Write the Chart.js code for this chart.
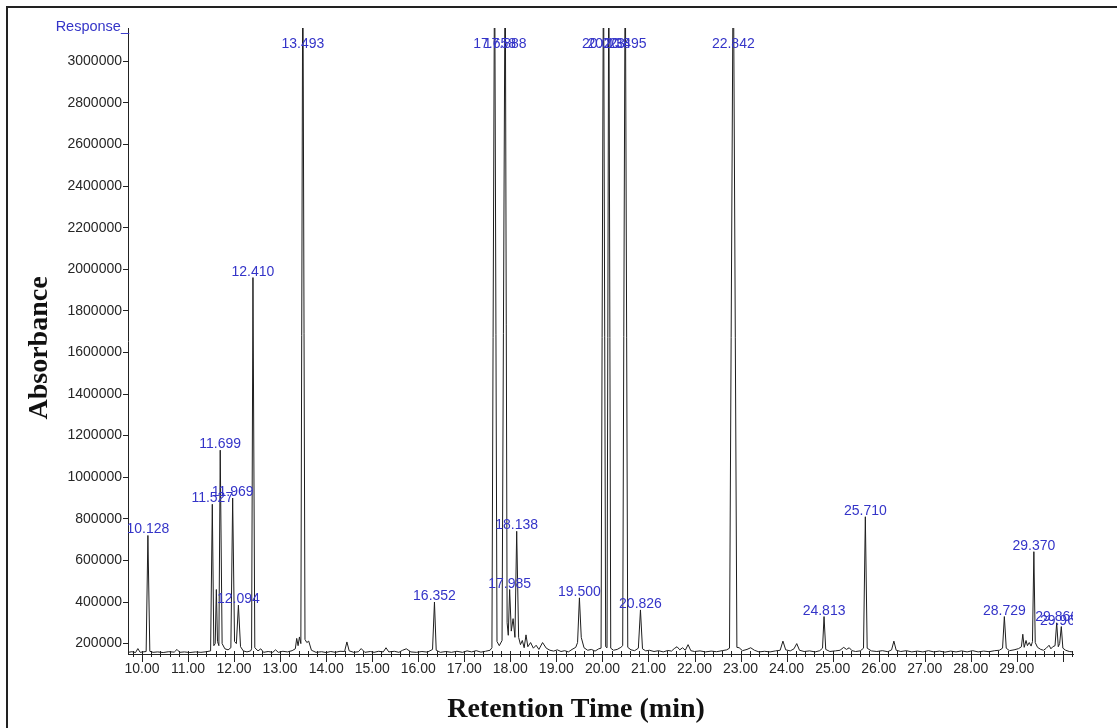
<!DOCTYPE html>
<html>
<head>
<meta charset="utf-8">
<script src="https://cdn.jsdelivr.net/npm/chart.js@4.4.1/dist/chart.umd.min.js"></script>
<style>
    html, body { margin: 0; padding: 0; background: #fff; overflow: hidden; }
    .frame { position: absolute; left: 6px; top: 6px; width: 1200px; height: 800px; border: 2px solid #222; }
    #chromatogram { position: absolute; left: 0; top: 0; }
</style>
</head>
<body>
<div class="frame"></div>
<canvas id="chromatogram" width="1117" height="728"></canvas>
<script>
// trace (min, response)
const retention = [
    9.70, 9.78, 9.86, 9.91, 9.96, 10.02, 10.09, 10.128, 10.17, 10.24, 10.34, 10.46, 10.58, 10.70, 10.76, 10.82, 10.92,
    11.04, 11.16, 11.28, 11.40, 11.49, 11.527, 11.56, 11.59, 11.615, 11.64, 11.67, 11.699, 11.74, 11.80, 11.87, 11.93, 11.969,
    12.01, 12.05, 12.094, 12.14, 12.20, 12.28, 12.36, 12.38, 12.410, 12.45, 12.52, 12.58, 12.64, 12.74, 12.84, 12.90, 12.96,
    13.06, 13.16, 13.26, 13.33, 13.36, 13.39, 13.42, 13.45, 13.493, 13.54, 13.58, 13.62, 13.68, 13.78, 13.90,
    14.00, 14.10, 14.20, 14.30, 14.40, 14.45, 14.50, 14.60, 14.70, 14.76, 14.84, 14.96,
    15.04, 15.14, 15.24, 15.30, 15.36, 15.48, 15.58, 15.66, 15.74, 15.84, 15.96,
    16.08, 16.20, 16.31, 16.352, 16.39, 16.48, 16.60, 16.72, 16.84, 16.96,
    17.06, 17.16, 17.26, 17.36, 17.46, 17.56, 17.60, 17.658, 17.71, 17.76, 17.82, 17.888, 17.93, 17.955, 17.985,
    18.02, 18.06, 18.10, 18.138, 18.18, 18.22, 18.26, 18.30, 18.34, 18.38, 18.44, 18.50, 18.56, 18.62, 18.70, 18.78, 18.86, 18.94,
    19.02, 19.10, 19.18, 19.26, 19.34, 19.42, 19.46, 19.500, 19.54, 19.60, 19.68, 19.76, 19.84, 19.92, 19.97,
    20.023, 20.07, 20.10, 20.138, 20.18, 20.24, 20.32, 20.40, 20.44, 20.495, 20.55, 20.62, 20.70, 20.78, 20.826, 20.87, 20.94,
    21.02, 21.12, 21.22, 21.32, 21.42, 21.50, 21.56, 21.62, 21.68, 21.74, 21.80, 21.86, 21.92,
    22.00, 22.12, 22.24, 22.36, 22.48, 22.60, 22.70, 22.76, 22.842, 22.92, 22.97,
    23.04, 23.14, 23.22, 23.30, 23.40, 23.52, 23.64, 23.76, 23.86, 23.92, 23.98,
    24.08, 24.16, 24.22, 24.28, 24.38, 24.50, 24.62, 24.72, 24.78, 24.813, 24.85, 24.94,
    25.06, 25.16, 25.24, 25.30, 25.36, 25.42, 25.50, 25.60, 25.67, 25.710, 25.75, 25.84, 25.96,
    26.08, 26.20, 26.28, 26.33, 26.38, 26.48, 26.60, 26.72, 26.84, 26.96,
    27.08, 27.20, 27.32, 27.44, 27.56, 27.68, 27.80, 27.92,
    28.04, 28.16, 28.28, 28.40, 28.52, 28.62, 28.69, 28.729, 28.77, 28.84, 28.94,
    29.04, 29.10, 29.13, 29.16, 29.20, 29.23, 29.27, 29.31, 29.34, 29.370, 29.40, 29.45, 29.52, 29.58, 29.64, 29.70, 29.74, 29.78, 29.83, 29.866, 29.90, 29.93, 29.966,
    30.00, 30.06, 30.14, 30.22
];
const response = [
    158000, 161000, 157000, 176000, 158000, 160000, 162000, 720000, 163000, 158000, 160000, 157000, 161000, 159000, 172000, 158000, 160000,
    157000, 160000, 158000, 161000, 165000, 870000, 190000, 200000, 460000, 210000, 190000, 1130000, 200000, 175000, 170000, 180000, 900000,
    210000, 200000, 385000, 185000, 165000, 160000, 165000, 175000, 1960000, 180000, 165000, 175000, 158000, 162000, 158000, 170000, 158000,
    163000, 160000, 166000, 175000, 225000, 190000, 232000, 200000, 3600000, 220000, 205000, 212000, 168000, 158000, 161000,
    157000, 162000, 158000, 163000, 162000, 208000, 165000, 158000, 161000, 176000, 158000, 162000,
    158000, 163000, 160000, 180000, 160000, 163000, 158000, 168000, 175000, 160000, 158000,
    162000, 159000, 172000, 400000, 168000, 158000, 162000, 158000, 163000, 158000,
    165000, 160000, 166000, 159000, 163000, 168000, 180000, 3600000, 210000, 190000, 215000, 3600000, 300000, 240000, 460000,
    260000, 320000, 230000, 740000, 230000, 195000, 215000, 180000, 242000, 185000, 205000, 178000, 192000, 172000, 205000, 178000, 168000, 164000,
    170000, 162000, 166000, 160000, 172000, 182000, 205000, 420000, 230000, 180000, 168000, 172000, 164000, 175000, 178000,
    3600000, 185000, 180000, 3600000, 178000, 168000, 172000, 182000, 190000, 3600000, 182000, 170000, 166000, 178000, 362000, 175000, 165000,
    168000, 162000, 166000, 160000, 167000, 164000, 176000, 185000, 170000, 180000, 168000, 195000, 166000,
    162000, 165000, 160000, 164000, 161000, 166000, 170000, 178000, 3600000, 182000, 180000,
    166000, 172000, 180000, 168000, 160000, 163000, 160000, 165000, 168000, 212000, 170000,
    165000, 175000, 200000, 168000, 162000, 165000, 160000, 166000, 178000, 330000, 172000, 162000,
    165000, 168000, 182000, 172000, 180000, 166000, 162000, 165000, 178000, 810000, 178000, 165000, 162000,
    166000, 161000, 170000, 212000, 168000, 162000, 166000, 160000, 164000, 160000,
    166000, 160000, 164000, 159000, 164000, 160000, 165000, 160000,
    166000, 160000, 164000, 161000, 166000, 168000, 178000, 330000, 178000, 166000, 170000,
    176000, 185000, 245000, 182000, 215000, 190000, 205000, 188000, 210000, 642000, 205000, 182000, 172000, 168000, 178000, 192000, 175000, 185000, 190000, 300000, 185000, 200000, 282000,
    178000, 168000, 162000, 160000
];

// labelled peaks
const peakTimes = [10.128, 11.527, 11.699, 11.969, 12.094, 12.410, 13.493, 16.352, 17.658, 17.888, 17.985, 18.138,
    19.500, 20.023, 20.138, 20.495, 20.826, 22.842, 24.813, 25.710, 28.729, 29.370, 29.866, 29.966];

const yTickValues = [200000, 400000, 600000, 800000, 1000000, 1200000, 1400000, 1600000,
    1800000, 2000000, 2200000, 2400000, 2600000, 2800000, 3000000];
const xTickValues = [10, 11, 12, 13, 14, 15, 16, 17, 18, 19, 20, 21, 22, 23, 24, 25, 26, 27, 28, 29, 30];
const xTickLabels = ['10.00', '11.00', '12.00', '13.00', '14.00', '15.00', '16.00', '17.00', '18.00', '19.00',
    '20.00', '21.00', '22.00', '23.00', '24.00', '25.00', '26.00', '27.00', '28.00', '29.00', ''];

const BLUE = '#3434c8';
const INK = '#222';

const decor = {
    id: 'decor',
    afterDatasetsDraw(chart) {
        const { ctx, chartArea: a, scales: { x, y } } = chart;

        // minor / major ticks crossing the time axis
        ctx.save();
        ctx.strokeStyle = INK;
        ctx.lineWidth = 1;
        ctx.beginPath();
        for (let k = 49; k <= 151; k++) {
            const t = k / 5;
            const px = Math.round(x.getPixelForValue(t)) + 0.5;
            if (px < a.left || px > a.right) continue;
            const major = k % 5 === 0;
            ctx.moveTo(px, a.bottom - 3);
            ctx.lineTo(px, a.bottom + (major ? 8 : 3));
        }
        ctx.stroke();
        ctx.restore();

        // peak labels
        ctx.save();
        ctx.beginPath();
        ctx.rect(a.left, 0, a.right - a.left, chart.height);
        ctx.clip();
        ctx.font = '14px "Liberation Sans", Arial, sans-serif';
        ctx.fillStyle = BLUE;
        ctx.textAlign = 'center';
        ctx.textBaseline = 'alphabetic';
        peakTimes.forEach(t => {
            const i = retention.indexOf(t);
            const py = Math.max(y.getPixelForValue(response[i]) - 2, a.top + 20);
            ctx.fillText(t.toFixed(3), x.getPixelForValue(t), py);
        });
        ctx.restore();
    },
    afterDraw(chart) {
        const { ctx, chartArea: a } = chart;
        ctx.save();
        ctx.fillStyle = BLUE;
        ctx.font = '14.5px "Liberation Sans", Arial, sans-serif';
        ctx.textAlign = 'right';
        ctx.textBaseline = 'middle';
        ctx.fillText('Response_', a.left + 1, 27);

        ctx.fillStyle = '#111';
        ctx.font = 'bold 28px "Liberation Serif", "Times New Roman", serif';
        ctx.textAlign = 'center';
        ctx.fillText('Retention Time (min)', 576, 710);
        ctx.translate(40, 348);
        ctx.rotate(-Math.PI / 2);
        ctx.fillText('Absorbance', 0, 0);
        ctx.restore();
    }
};

const tickFont = { family: '"Liberation Sans", Arial, sans-serif', size: 14 };

new Chart(document.getElementById('chromatogram'), {
    type: 'line',
    data: {
        datasets: [{
            data: retention.map((t, i) => ({ x: t, y: response[i] })),
            borderColor: '#1e1e1e',
            borderWidth: 1,
            pointRadius: 0,
            tension: 0,
            fill: false
        }]
    },
    options: {
        responsive: false,
        animation: false,
        devicePixelRatio: 1,
        layout: { padding: { top: 28, right: 44, left: 0, bottom: 0 } },
        plugins: { legend: { display: false }, tooltip: { enabled: false } },
        scales: {
            x: {
                type: 'linear',
                min: 9.696,
                max: 30.22,
                afterBuildTicks: s => { s.ticks = xTickValues.map(v => ({ value: v })); },
                afterFit: s => { s.height = 74; },
                grid: { display: true, drawOnChartArea: false, drawTicks: false },
                border: { color: INK, width: 1 },
                ticks: {
                    autoSkip: false,
                    maxRotation: 0,
                    padding: 7,
                    font: tickFont,
                    color: '#262626',
                    callback: (v, i) => xTickLabels[i]
                }
            },
            y: {
                min: 150000,
                max: 3160000,
                afterBuildTicks: s => { s.ticks = yTickValues.map(v => ({ value: v })); },
                afterFit: s => { s.width = 128; },
                grid: { drawOnChartArea: false, tickLength: 5, tickColor: INK },
                border: { color: INK, width: 1 },
                ticks: {
                    padding: 1,
                    font: tickFont,
                    color: '#262626',
                    callback: v => String(v)
                }
            }
        }
    },
    plugins: [decor]
});
</script>
</body>
</html>
